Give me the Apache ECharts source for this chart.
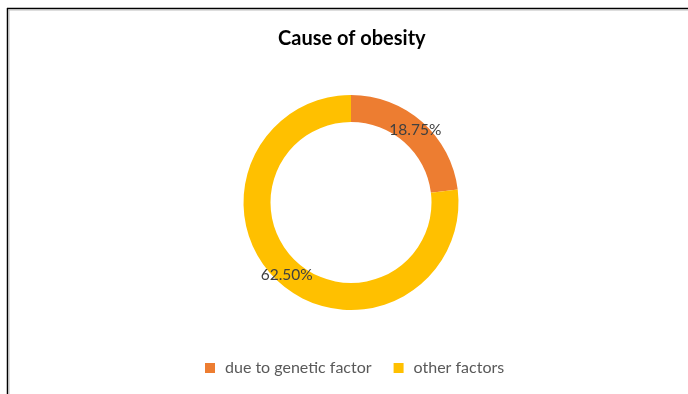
<!DOCTYPE html>
<html>
<head>
<meta charset="utf-8">
<script src="https://cdn.jsdelivr.net/npm/echarts@6/dist/echarts.min.js"></script>
<style>
  html, body { margin: 0; padding: 0; background: #fff; }
  #main { width: 688px; height: 394px; }
</style>
</head>
<body>
<div id="main"></div>
<script>
  // 数据
  var categories = ['due to genetic factor', 'other factors'];
  var values = [18.75, 62.50];
  var colors = ['#ED7D31', '#FFC000'];

  var chart = echarts.init(document.getElementById('main'));

  var pieData = categories.map(function (name, i) {
    return { name: name, value: values[i], itemStyle: { color: colors[i] } };
  });

  var option = {
    backgroundColor: '#fff',
    animation: false,
    title: {
      text: 'Cause of obesity',
      left: 273,
      top: 24,
      textStyle: { fontFamily: 'Lato', fontWeight: 'bold', fontSize: 20, color: '#000' }
    },
    legend: {
      data: categories,
      bottom: 13,
      left: 200,
      icon: 'rect',
      itemWidth: 10,
      itemHeight: 10,
      itemGap: 22,
      textStyle: { fontFamily: 'Lato', fontSize: 16, color: '#595959', padding: [0, 0, 0, 5] }
    },
    graphic: [
      { type: 'line', shape: { x1: 7, y1: 8.5, x2: 688, y2: 8.5 }, style: { stroke: '#000', lineWidth: 1.5 } },
      { type: 'line', shape: { x1: 7.5, y1: 8, x2: 7.5, y2: 394 }, style: { stroke: '#000', lineWidth: 1.5 } },
      { type: 'line', shape: { x1: 8, y1: 10, x2: 688, y2: 10 }, style: { stroke: '#bbb', lineWidth: 1 } },
      { type: 'line', shape: { x1: 9, y1: 10, x2: 9, y2: 394 }, style: { stroke: '#bbb', lineWidth: 1 } }
    ],
    series: [
      {
        type: 'pie',
        center: [351, 202.5],
        radius: [80.5, 107.5],
        startAngle: 90,
        clockwise: true,
        avoidLabelOverlap: false,
        label: {
          show: true,
          position: 'inside',
          formatter: function (p) { return p.value.toFixed(2) + '%'; },
          fontFamily: 'Lato',
          fontSize: 15.5,
          color: '#404040'
        },
        labelLine: { show: false },
        itemStyle: { borderWidth: 0 },
        emphasis: { disabled: true },
        data: pieData
      }
    ]
  };

  chart.setOption(option);
</script>
</body>
</html>
